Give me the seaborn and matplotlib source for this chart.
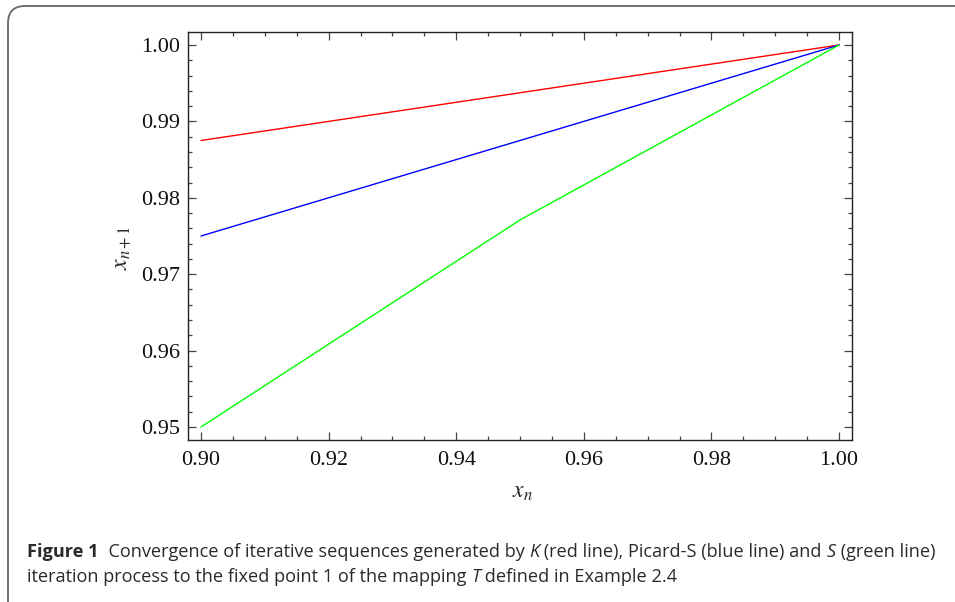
import matplotlib
matplotlib.use("Agg")
import matplotlib.pyplot as plt
import seaborn as sns
import pandas as pd
import numpy as np
from matplotlib.patches import FancyBboxPatch
from matplotlib.ticker import MultipleLocator

# ---- data ----
x_vals = [0.90, 0.95, 1.00]
k_vals = [0.9875, 0.99375, 1.00]
picard_s_vals = [0.975, 0.9875, 1.00]
s_vals = [0.95, 0.9771, 1.00]
series_names = ["K", "Picard-S", "S"]
series_colors = ["#ff0000", "#0000ff", "#00ff00"]
x_ticks = [0.90, 0.92, 0.94, 0.96, 0.98, 1.00]
y_ticks = [0.95, 0.96, 0.97, 0.98, 0.99, 1.00]

df = pd.DataFrame({
    "x": x_vals * 3,
    "y": k_vals + picard_s_vals + s_vals,
    "series": [series_names[0]] * 3 + [series_names[1]] * 3 + [series_names[2]] * 3,
})

sns.set_style("white")
plt.rcParams["mathtext.fontset"] = "stix"

W, H = 955, 602
fig = plt.figure(figsize=(W / 100, H / 100), dpi=100)
ax = fig.add_axes([188 / W, 1 - 440 / H, (852 - 188) / W, (440 - 32) / H])

sns.lineplot(data=df, x="x", y="y", hue="series", palette=series_colors,
             hue_order=series_names, ax=ax, linewidth=1.0, legend=False,
             estimator=None, sort=False)

ax.set_xlim(0.9 - 13 / 6380, 1.0 + 13 / 6380)
ax.set_ylim(0.95 - 13 / 7640, 1.0 + 13 / 7640)
ax.set_xticks(x_ticks)
ax.set_yticks(y_ticks)
ax.set_xticklabels([f"{v:.2f}" for v in x_ticks])
ax.set_yticklabels([f"{v:.2f}" for v in y_ticks])
ax.xaxis.set_minor_locator(MultipleLocator(0.005))
ax.yaxis.set_minor_locator(MultipleLocator(0.002))

for sp in ax.spines.values():
    sp.set_visible(True)
    sp.set_color("#222222")
    sp.set_linewidth(1.0)

ax.tick_params(which="both", direction="in", top=True, right=True,
               bottom=True, left=True, color="#444444", width=0.9)
ax.tick_params(which="major", length=5.5)
ax.tick_params(which="minor", length=3.2)
ax.tick_params(axis="y", which="major", pad=6)
ax.tick_params(axis="x", which="major", pad=8)
for lab in ax.get_xticklabels() + ax.get_yticklabels():
    lab.set_fontfamily("Liberation Serif")
    lab.set_fontsize(16)
    lab.set_color("#111111")

ax.set_xlabel("")
ax.set_ylabel("")
fig.text(522 / W, 1 - 491 / H, r"$x_n$", ha="center", va="center", fontsize=17)
fig.text(121 / W, 1 - 248 / H, r"$x_{n+1}$", ha="center", va="center",
         fontsize=17, rotation=90)

# rounded frame around the whole figure
box = FancyBboxPatch((8 / W, -20 / H), (W + 40) / W, (H - 6 + 20) / H,
                     boxstyle="round,pad=0,rounding_size=0.018",
                     transform=fig.transFigure, fill=False,
                     edgecolor="#666666", linewidth=1.3, clip_on=False,
                     mutation_aspect=W / H)
fig.patches.append(box)

# caption, built from pieces
cap_font = "Open Sans"
cap_size = 13.1
pieces1 = [("Figure 1", "bold", "normal"), ("  Convergence of iterative sequences generated by ", "normal", "normal"),
           ("K", "normal", "italic"), (" (red line), Picard-S (blue line) and ", "normal", "normal"),
           ("S", "normal", "italic"), (" (green line)", "normal", "normal")]
pieces2 = [("iteration process to the fixed point 1 of the mapping ", "normal", "normal"),
           ("T", "normal", "italic"), (" defined in Example 2.4", "normal", "normal")]

renderer = fig.canvas.get_renderer()

def draw_line(pieces, x0, y_base):
    x = x0
    for txt, weight, style in pieces:
        t = fig.text(x / W, 1 - y_base / H, txt, fontfamily=cap_font,
                     fontsize=cap_size, fontweight=weight, fontstyle=style,
                     color="#2a2a2a", va="baseline", ha="left")
        bb = t.get_window_extent(renderer=renderer)
        x += bb.width

draw_line(pieces1, 27, 557)
draw_line(pieces2, 27, 582)

fig.savefig("out.png", dpi=100)
